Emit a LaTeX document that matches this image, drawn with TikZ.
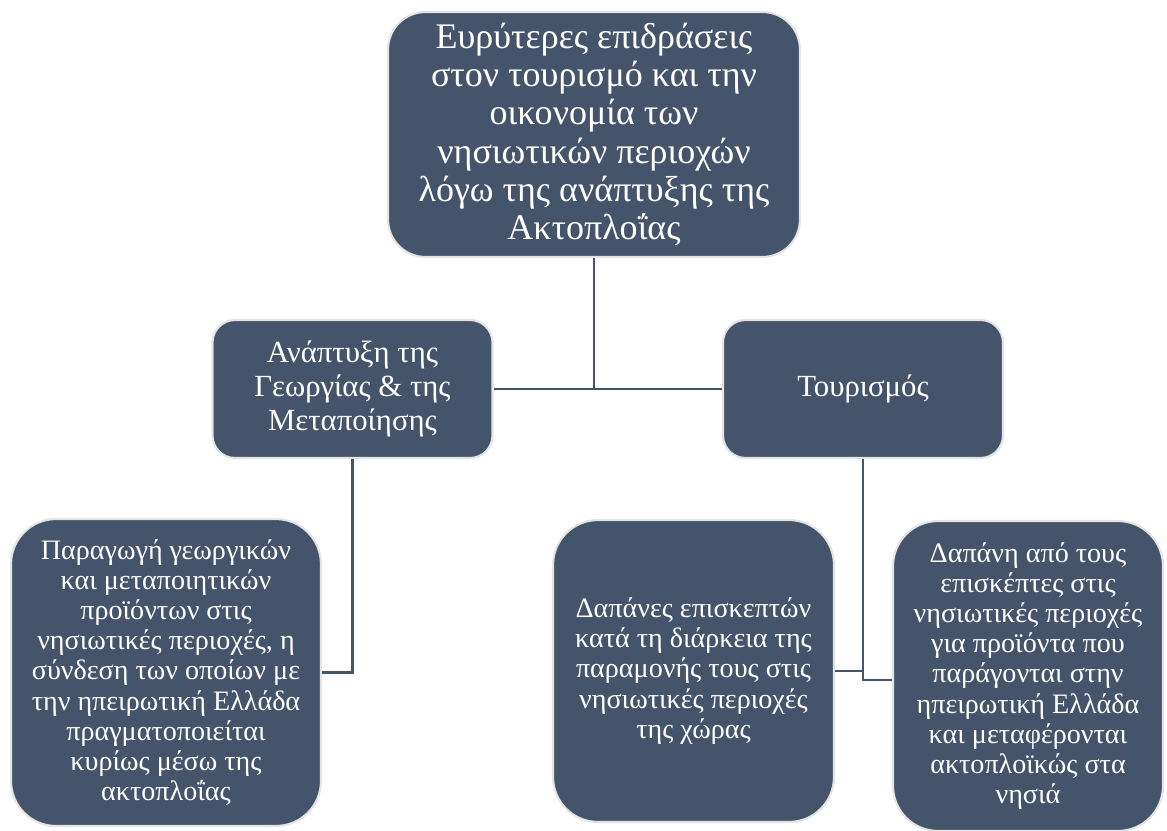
\documentclass[tikz,border=0pt]{standalone}
\usepackage{fontspec}
\setmainfont{Liberation Serif}
\usepackage{xcolor}
\definecolor{slate}{HTML}{44546A}
\definecolor{rim}{HTML}{E4E4E4}

\begin{document}
\begin{tikzpicture}[x=0.02cm, y=-0.02cm,
		box/.style={rectangle, draw=rim, line width=1.2pt, fill=slate, text=white, align=center, inner sep=0pt},
		main/.style={box, rounded corners=0.75cm, minimum width=8.24cm, minimum height=4.9cm, font=\fontsize{20.5}{21.8}\selectfont},
		branch/.style={box, rounded corners=0.45cm, minimum width=5.6cm, minimum height=2.76cm, font=\fontsize{17.5}{19.4}\selectfont},
		leaf/.style={box, rounded corners=0.9cm, font=\fontsize{16}{17.2}\selectfont},
		link/.style={draw=slate, line width=1.6pt}]
		\useasboundingbox (0,0) rectangle (1167,831);
		\node[main] (top) at (594,134.5) {Ευρύτερες επιδράσεις\\στον τουρισμό και την\\οικονομία των\\νησιωτικών περιοχών\\λόγω της ανάπτυξης της\\Ακτοπλοΐας};
		\node[branch] (agri) at (352.5,389) {Ανάπτυξη της\\Γεωργίας \& της\\Μεταποίησης};
		\node[branch] (tour) at (863,389) {Τουρισμός};
		\node[leaf, minimum width=6.2cm, minimum height=6.14cm] (prod) at (166,672.5) {Παραγωγή γεωργικών\\και μεταποιητικών\\προϊόντων στις\\νησιωτικές περιοχές, η\\σύνδεση των οποίων με\\την ηπειρωτική Ελλάδα\\πραγματοποιείται\\κυρίως μέσω της\\ακτοπλοΐας};
		\node[leaf, minimum width=5.62cm, minimum height=6.04cm] (spend) at (693.5,671) {Δαπάνες επισκεπτών\\κατά τη διάρκεια της\\παραμονής τους στις\\νησιωτικές περιοχές\\της χώρας};
		\node[leaf, minimum width=5.4cm, minimum height=6.2cm] (goods) at (1028,676) {Δαπάνη από τους\\επισκέπτες στις\\νησιωτικές περιοχές\\για προϊόντα που\\παράγονται στην\\ηπειρωτική Ελλάδα\\και μεταφέρονται\\ακτοπλοϊκώς στα\\νησιά};
		
		\draw[link] (top.south) -- (top.south |- agri.east);
		\draw[link] (agri.east) -- (tour.west);
		\draw[link] (agri.south) |- (prod.east);
		\draw[link] (tour.south) |- ([yshift=-0.08cm]goods.west);
		\draw[link] (spend.east) -| (tour.south);
		
	\end{tikzpicture}
\end{document}
